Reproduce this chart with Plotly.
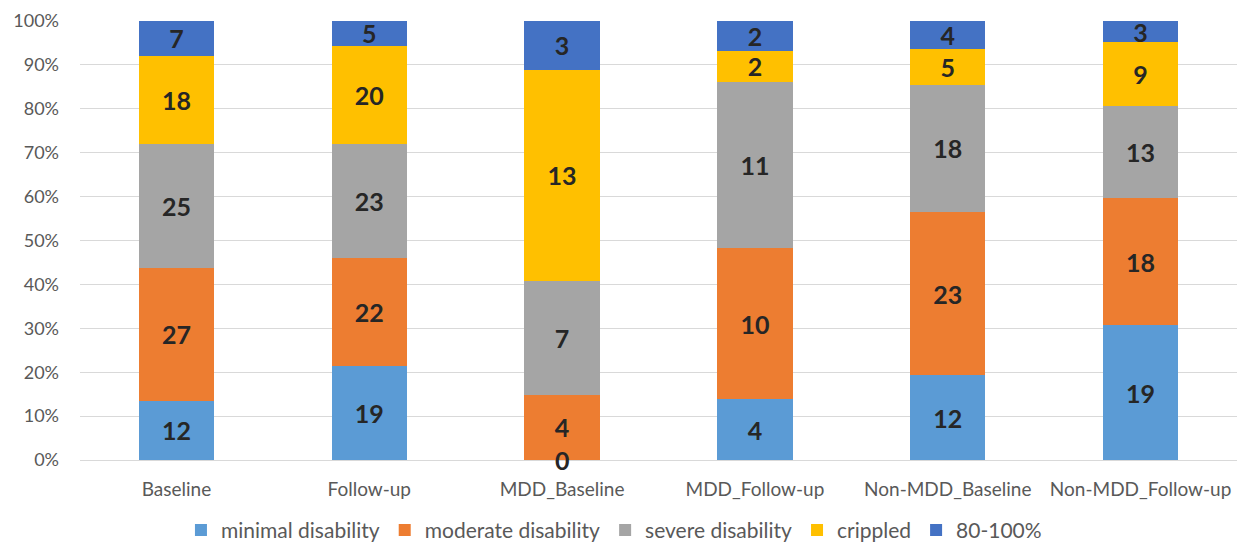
import plotly.graph_objects as go

categories = ["Baseline", "Follow-up", "MDD_Baseline", "MDD_Follow-up",
              "Non-MDD_Baseline", "Non-MDD_Follow-up"]
series_names = ["minimal disability", "moderate disability", "severe disability",
                "crippled", "80-100%"]
minimal = [12, 19, 0, 4, 12, 19]
moderate = [27, 22, 4, 10, 23, 18]
severe = [25, 23, 7, 11, 18, 13]
crippled = [18, 20, 13, 2, 5, 9]
top = [7, 5, 3, 2, 4, 3]
y_ticks = [0, 10, 20, 30, 40, 50, 60, 70, 80, 90, 100]
y_tick_labels = [f"{v}%" for v in y_ticks]

series_values = [minimal, moderate, severe, crippled, top]
colors = ["#5B9BD5", "#ED7D31", "#A5A5A5", "#FFC000", "#4472C4"]

FONT = "Lato"
LABEL_FONT = dict(family=FONT, size=25, color="#262626", weight="bold")
fig = go.Figure()
for name, vals, col in zip(series_names, series_values, colors):
    fig.add_trace(go.Bar(
        x=categories, y=vals, name=name, marker=dict(color=col, line=dict(width=0)),
        text=[str(v) if v != 0 else "" for v in vals], texttemplate="%{text}",
        textposition="inside", insidetextanchor="middle", constraintext="none",
        textangle=0, textfont=LABEL_FONT,
    ))

# zero-valued segments still show their label at the baseline
for vals in series_values:
    for c, v in zip(categories, vals):
        if v == 0:
            fig.add_annotation(x=c, y=0, text=str(v), showarrow=False,
                               yanchor="middle", font=LABEL_FONT)

fig.update_layout(
    width=1241, height=543,
    barmode="stack", barnorm="percent", bargap=0.61,
    margin=dict(l=80, r=4, t=21, b=83, autoexpand=False),
    paper_bgcolor="white", plot_bgcolor="white",
    font=dict(family=FONT, color="#595959"),
    xaxis=dict(showgrid=False, showline=True, linecolor="#d9d9d9", linewidth=1,
               tickfont=dict(size=19, color="#595959"), ticks="", tickangle=0,
               ticklabelstandoff=12, automargin=False),
    yaxis=dict(range=[0, 100], tickvals=y_ticks, ticktext=y_tick_labels, showgrid=True,
               gridcolor="#d9d9d9", gridwidth=1, zeroline=False, automargin=False,
               tickfont=dict(size=18, color="#595959"), ticklabelstandoff=20),
    legend=dict(orientation="h", x=0.4615, xanchor="center",
                y=-0.16, yanchor="middle", font=dict(size=21, color="#595959"),
                traceorder="normal"),
    showlegend=True,
)

fig.write_html("out.html")
